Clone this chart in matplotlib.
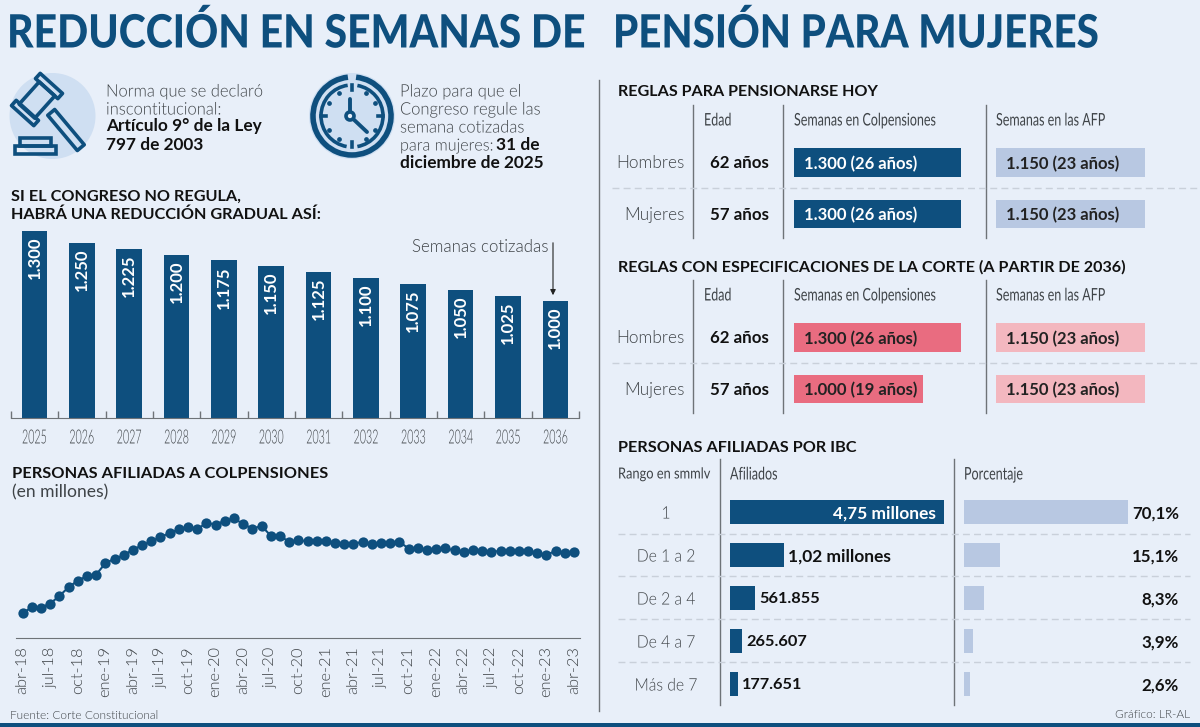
"""
Reduccion en semanas de pension para mujeres, infographic
"""

import matplotlib

matplotlib.use("Agg")
import matplotlib.pyplot as plt
import numpy as np
from matplotlib.patches import Arc, Circle, Polygon, Rectangle
from matplotlib.patheffects import AbstractPathEffect
from matplotlib.transforms import Affine2D

W, H = 1200, 727
BG = "#E8EFF9"
NAVY = "#0E4F7E"
LIGHT = "#B8C8E2"
PINK = "#E96C80"
LIGHT_PINK = "#F3B7BF"
GRAY = "#3F4448"
RULE = "#6E7378"
DASH = "#C9D0DA"
BLACK = "#111111"
SANS = ["Lato", "DejaVu Sans"]
THIN = 300

years = [2025, 2026, 2027, 2028, 2029, 2030, 2031, 2032, 2033, 2034, 2035, 2036]
weeks = [1300, 1250, 1225, 1200, 1175, 1150, 1125, 1100, 1075, 1050, 1025, 1000]

month_labels = [
    "abr-18", "jul-18", "oct-18", "ene-19", "abr-19", "jul-19", "oct-19",
    "ene-20", "abr-20", "jul-20", "oct-20", "ene-21", "abr-21", "jul-21",
    "oct-21", "ene-22", "abr-22", "jul-22", "oct-22", "ene-23", "abr-23",
]
members = [
    6.401, 6.433, 6.431, 6.452, 6.492, 6.538, 6.573, 6.596, 6.604, 6.664,
    6.688, 6.706, 6.736, 6.758, 6.779, 6.802, 6.823, 6.842, 6.853, 6.842,
    6.877, 6.867, 6.888, 6.900, 6.870, 6.846, 6.860, 6.809, 6.809, 6.776,
    6.786, 6.779, 6.779, 6.781, 6.769, 6.763, 6.767, 6.776, 6.763, 6.769,
    6.769, 6.777, 6.741, 6.742, 6.732, 6.737, 6.742, 6.732, 6.723, 6.734,
    6.730, 6.723, 6.730, 6.727, 6.727, 6.727, 6.716, 6.708, 6.729, 6.716,
    6.725,
]

rule_groups = ["Hombres", "Mujeres"]
rule_ages = ["62 años", "57 años"]
today_colpensiones = [1300, 1300]
today_afp = [1150, 1150]
court_colpensiones = [1300, 1000]
court_afp = [1150, 1150]
today_colp_labels = ["1.300 (26 años)", "1.300 (26 años)"]
today_afp_labels = ["1.150 (23 años)", "1.150 (23 años)"]
court_colp_labels = ["1.300 (26 años)", "1.000 (19 años)"]
court_afp_labels = ["1.150 (23 años)", "1.150 (23 años)"]

ibc_ranges = ["1", "De 1 a 2", "De 2 a 4", "De 4 a 7", "Más de 7"]
# the second bar is drawn longer than its 1,02 label in the original
ibc_members = [4.75, 1.2, 0.561855, 0.265607, 0.177651]
ibc_labels = ["4,75 millones", "1,02 millones", "561.855", "265.607", "177.651"]
ibc_share = [70.1, 15.1, 8.3, 3.9, 2.6]
ibc_share_labels = ["70,1%", "15,1%", "8,3%", "3,9%", "2,6%"]


class Squeeze(AbstractPathEffect):
    """No condensed font is installed, so narrow the glyphs around an anchor pixel."""

    def __init__(self, x0, fx):
        super().__init__()
        self.tr = Affine2D().translate(-x0, 0).scale(fx, 1).translate(x0, 0)

    def draw_path(self, renderer, gc, tpath, affine, rgbFace=None):
        renderer.draw_path(gc, tpath, affine + self.tr, rgbFace)


fig = plt.figure(figsize=(12, 7.27), dpi=100, facecolor=BG)

# overlay in pixel coordinates for the text, rules and icons
page = fig.add_axes([0, 0, 1, 1], zorder=0)
page.set_xlim(0, W)
page.set_ylim(H, 0)
page.axis("off")


def sub_axes(x0, x1, y0, y1):
    ax = fig.add_axes([x0 / W, 1 - y1 / H, (x1 - x0) / W, (y1 - y0) / H], zorder=1)
    ax.patch.set_alpha(0)
    return ax


def txt(x, y, s, size=12, weight="normal", color=GRAY, ha="left", fx=None):
    t = page.text(x, y + 1.5, s, fontsize=size, fontweight=weight, color=color,
                  ha=ha, va="center", family=SANS)
    if fx:
        t.set_path_effects([Squeeze(x, fx)])


def rule(x, y0, y1):
    page.plot([x, x], [y0, y1], color=RULE, lw=1)


def dash(y, x0=612, x1=1200):
    page.plot([x0, x1], [y, y], color=DASH, lw=1, ls=(0, (5, 3)))


def rot_rect(cx, cy, length, width, deg, **kw):
    a = np.radians(deg)
    u = np.array([np.cos(a), np.sin(a)])
    v = np.array([-u[1], u[0]])
    c = np.array([cx, cy])
    pts = [c + s * length / 2 * u + t * width / 2 * v
           for s, t in [(-1, -1), (1, -1), (1, 1), (-1, 1)]]
    page.add_patch(Polygon(pts, closed=True, joinstyle="round", **kw))


# title and frame
txt(7, 32.5, "REDUCCIÓN EN SEMANAS DE", size=33, weight="black", color=NAVY, fx=0.893)
txt(613, 32.5, "PENSIÓN PARA MUJERES", size=33, weight="black", color=NAVY, fx=0.88)
page.add_patch(Rectangle((0, 723), W, 4, color=NAVY, lw=0))
rule(599, 80, 711)

# gavel icon
page.add_patch(Circle((52.5, 116), 43, color="#CFDFF2", lw=0))
ink = dict(fill=False, edgecolor=NAVY, lw=2.6)
rot_rect(37, 100, 30, 21, -48, **ink)
rot_rect(25, 113, 30, 7, 42, **ink)
rot_rect(49, 86, 30, 7, 42, **ink)
rot_rect(66, 130, 46, 9, 50, **ink)
page.add_patch(Rectangle((20, 138), 31, 8, **ink))
page.add_patch(Rectangle((15, 146), 41, 8, **ink))

# clock icon
page.add_patch(Circle((352, 116), 43, color="#CFDFF2", lw=0))
page.add_patch(Arc((352, 116), 78, 78, theta1=-84, theta2=264, color=NAVY, lw=4))
page.add_patch(Arc((352, 116), 62, 62, theta1=-80, theta2=80, color=NAVY, lw=2.6))
page.add_patch(Arc((352, 116), 62, 62, theta1=100, theta2=262, color=NAVY, lw=2.6))
for hour in range(12):
    a = np.radians(hour * 30)
    if hour % 3 == 0:
        page.plot([352 + 26 * np.sin(a), 352 + 31 * np.sin(a)],
                  [116 - 26 * np.cos(a), 116 - 31 * np.cos(a)], color=NAVY, lw=2.6)
    else:
        page.plot(352 + 27 * np.sin(a), 116 - 27 * np.cos(a), "o", color=NAVY, ms=2.4)
page.plot([350, 350, 367], [99, 116, 132], color=NAVY, lw=2.8, solid_capstyle="round")
page.add_patch(Circle((350, 116), 4, facecolor=BG, edgecolor=NAVY, lw=2.6, zorder=3))

# note texts
txt(106, 90, "Norma que se declaró", size=12.4, weight=THIN, fx=0.96)
txt(106, 108, "inscontitucional:", size=12.4, weight=THIN, fx=0.96)
txt(106, 125, "Artículo 9° de la Ley", size=12.4, weight="bold", color=BLACK)
txt(106, 143, "797 de 2003", size=12.4, weight="bold", color=BLACK)
txt(400, 90, "Plazo para que el", size=12.4, weight=THIN, fx=0.96)
txt(400, 108, "Congreso regule las", size=12.4, weight=THIN, fx=0.96)
txt(400, 126, "semana cotizadas", size=12.4, weight=THIN, fx=0.96)
txt(400, 144, "para mujeres:", size=12, weight=THIN, fx=0.97)
txt(496, 144, "31 de", size=12.4, weight="bold", color=BLACK)
txt(400, 162, "diciembre de 2025", size=12.4, weight="bold", color=BLACK)

# gradual reduction bars
txt(11, 195, "SI EL CONGRESO NO REGULA,", size=11.7, weight="bold", color=BLACK)
txt(11, 213, "HABRÁ UNA REDUCCIÓN GRADUAL ASÍ:", size=11.7, weight="bold", color=BLACK)

ax = sub_axes(10.8, 579, 225, 418.3)
pos = np.arange(len(years))
ax.bar(pos, weeks, width=0.54, color=NAVY)
ax.set_xlim(-0.5, 11.5)
ax.set_ylim(499, 1327)
ax.set_yticks([])
for side in ["top", "left", "right"]:
    ax.spines[side].set_visible(False)
ax.spines["bottom"].set_color(RULE)
ax.set_xticks(pos)
year_ticks = ax.set_xticklabels(years, fontsize=14, color=GRAY, family=SANS, fontweight=THIN)
for i, label in enumerate(year_ticks):
    label.set_path_effects([Squeeze(10.8 + (i + 0.5) * 47.39, 0.55)])
ax.tick_params(axis="x", which="major", length=0, pad=8)
ax.set_xticks(np.r_[-0.5, pos + 0.5], minor=True)
ax.tick_params(axis="x", which="minor", direction="in", length=5, color=RULE, width=1)
for i, v in enumerate(weeks):
    ax.annotate(f"{v:,}".replace(",", "."), (i, v), xytext=(0, -4),
                textcoords="offset points", rotation=90, ha="center", va="top",
                fontsize=12, fontweight="bold", color="white", family=SANS)
txt(549, 246, "Semanas cotizadas", size=12.2, weight=THIN, ha="right")
page.annotate("", xy=(553, 298), xytext=(553, 240),
              arrowprops=dict(arrowstyle="-|>", color="#222222", lw=0.8, mutation_scale=8))

# members line
txt(12, 473, "PERSONAS AFILIADAS A COLPENSIONES", size=11.8, weight="bold", color=BLACK)
txt(12, 491, "(en millones)", size=12.6, color=GRAY)

ax = sub_axes(16, 580, 510, 638)
ax.plot(range(len(members)), members, color=NAVY, lw=1.5, marker="o", ms=7.4, mew=0)
ax.set_xlim(-0.72, 60.65)
ax.set_ylim(6.271, 6.944)
ax.set_yticks([])
for side in ["top", "left", "right"]:
    ax.spines[side].set_visible(False)
ax.spines["bottom"].set_color(RULE)
ax.set_xticks(range(0, len(members), 3))
ax.set_xticklabels(month_labels, rotation=90, fontsize=11.8, color=GRAY,
                   family=SANS, fontweight=THIN)
ax.tick_params(axis="x", length=0, pad=6)
txt(10, 714, "Fuente: Corte Constitucional", size=8.6, weight=THIN)
txt(1190, 713, "Gráfico: LR-AL", size=8.6, weight=THIN, ha="right")


# rules tables
def rules_table(title, top, colp, colp_labels, afp, afp_labels, colp_color, afp_color):
    txt(618, top + 91, title, size=11.65, weight="bold", color=BLACK)
    txt(704, top + 119, "Edad", size=12.5, fx=0.72)
    txt(794, top + 119, "Semanas en Colpensiones", size=12.5, fx=0.72)
    txt(996, top + 119, "Semanas en las AFP", size=12.5, fx=0.72)
    for x in [693, 783, 986]:
        rule(x, top + 105, top + 238)
    dash(top + 188)
    for i, group in enumerate(rule_groups):
        y = top + 161.5 + i * 51.7
        txt(685, y, group, size=12.4, weight=THIN, ha="right")
        txt(739, y, rule_ages[i], size=12.2, weight="bold", color=BLACK, ha="center")
    for x0, vals, labels, color, scale in [
        (794, colp, colp_labels, colp_color, 0.1285),
        (996, afp, afp_labels, afp_color, 0.1296),
    ]:
        ax = sub_axes(x0, x0 + 180, top + 136.65, top + 239.85)
        ax.barh(range(2), vals, height=0.55, color=color)
        ax.set_xlim(0, 180 / scale)
        ax.set_ylim(1.5, -0.5)
        ax.axis("off")
        text_color = "white" if color == NAVY else "#222222"
        for i, label in enumerate(labels):
            ax.annotate(label, (0, i), xytext=(7.5, -1), textcoords="offset points",
                        va="center", fontsize=12, fontweight="bold", color=text_color,
                        family=SANS)


rules_table("REGLAS PARA PENSIONARSE HOY", 0, today_colpensiones, today_colp_labels,
            today_afp, today_afp_labels, NAVY, LIGHT)
rules_table("REGLAS CON ESPECIFICACIONES DE LA CORTE (A PARTIR DE 2036)", 175,
            court_colpensiones, court_colp_labels, court_afp, court_afp_labels,
            PINK, LIGHT_PINK)

# members by IBC
txt(618, 447, "PERSONAS AFILIADAS POR IBC", size=11.7, weight="bold", color=BLACK)
txt(618, 473, "Rango en smmlv", size=11, fx=0.84)
txt(730, 473, "Afiliados", size=12.5, fx=0.72)
txt(964, 473, "Porcentaje", size=12.5, fx=0.72)
rule(720, 459, 705)
rule(954, 459, 705)
for y in [533.7, 576.3, 619, 662]:
    dash(y, 618, 1190)
for i, name in enumerate(ibc_ranges):
    txt(666, 512 + i * 43, name, size=12.4, weight=THIN, ha="center", fx=0.91)

ax = sub_axes(730, 950, 490.2, 705.2)
ax.barh(range(5), ibc_members, height=0.56, color=NAVY)
ax.set_xlim(0, 220 / 45)
ax.set_ylim(4.5, -0.5)
ax.axis("off")
for i, (v, label) in enumerate(zip(ibc_members, ibc_labels)):
    big = i < 2
    if i == 0:
        ax.annotate(label, (v, i), xytext=(-6, -1), textcoords="offset points", ha="right",
                    va="center", fontsize=12.5, fontweight="bold", color="white", family=SANS)
    else:
        ax.annotate(label, (v, i), xytext=(3, -1), textcoords="offset points", va="center",
                    fontsize=12.5 if big else 11.8, fontweight="bold", color=BLACK, family=SANS)

ax = sub_axes(964.3, 1184, 490.2, 705.2)
ax.barh(range(5), ibc_share, height=0.56, color=LIGHT)
ax.set_xlim(0, 219.7 / 2.34)
ax.set_ylim(4.5, -0.5)
ax.axis("off")
for i, label in enumerate(ibc_share_labels):
    txt(1179, 512 + i * 43, label, size=12.2, weight="bold", color=BLACK, ha="right")

plt.savefig("out.png", dpi=100, facecolor=BG)
